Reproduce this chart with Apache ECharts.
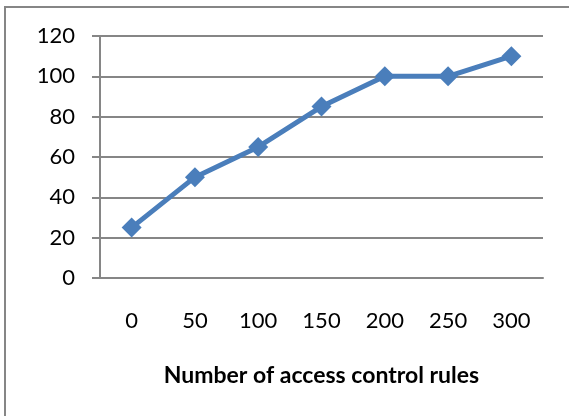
<!DOCTYPE html>
<html>
<head>
<meta charset="utf-8">
<script src="https://cdn.jsdelivr.net/npm/echarts@6/dist/echarts.min.js"></script>
<style>
  html, body { margin: 0; padding: 0; background: #fff; }
  #chart { width: 569px; height: 416px; }
</style>
</head>
<body>
<div id="chart"></div>
<script>
// Rule counts along the x axis and the measured values for each
const ruleCounts = ['0', '50', '100', '150', '200', '250', '300'];
const values = [25, 50, 65, 85, 100, 100, 110];
const xAxisTitle = 'Number of access control rules';

const FONT = 'Lato, "Open Sans", sans-serif';
const GRAY = '#868686';
const BLUE = '#4A7EBB';

const chart = echarts.init(document.getElementById('chart'), null, { renderer: 'canvas' });
chart.setOption({
  animation: false,
  backgroundColor: '#fff',
  graphic: [{
    type: 'rect',
    shape: { x: 5, y: 7, width: 600, height: 450 },
    style: { fill: 'none', stroke: GRAY, lineWidth: 2 },
    silent: true
  }],
  grid: { left: 100, right: 26, top: 36, bottom: 138 },
  xAxis: {
    type: 'category',
    data: ruleCounts,
    boundaryGap: true,
    axisLine: { lineStyle: { color: GRAY, width: 2 } },
    axisTick: { length: 7, lineStyle: { color: GRAY, width: 2 } },
    axisLabel: { color: '#000', fontFamily: FONT, fontSize: 22, margin: 32 },
    name: xAxisTitle,
    nameLocation: 'middle',
    nameGap: 86,
    nameTextStyle: { color: '#000', fontFamily: FONT, fontSize: 23, fontWeight: 'bold' }
  },
  yAxis: {
    type: 'value',
    min: 0, max: 120, interval: 20,
    axisLine: { show: true, lineStyle: { color: GRAY, width: 2 } },
    axisTick: { show: true, length: 8, lineStyle: { color: GRAY, width: 2 } },
    splitLine: { lineStyle: { color: GRAY, width: 2 } },
    axisLabel: { color: '#000', fontFamily: FONT, fontSize: 22, margin: 25 }
  },
  series: [{
    type: 'line',
    data: values,
    symbol: 'diamond',
    symbolSize: 20,
    lineStyle: { color: BLUE, width: 5 },
    itemStyle: { color: BLUE },
    z: 3
  }]
});
</script>
</body>
</html>
